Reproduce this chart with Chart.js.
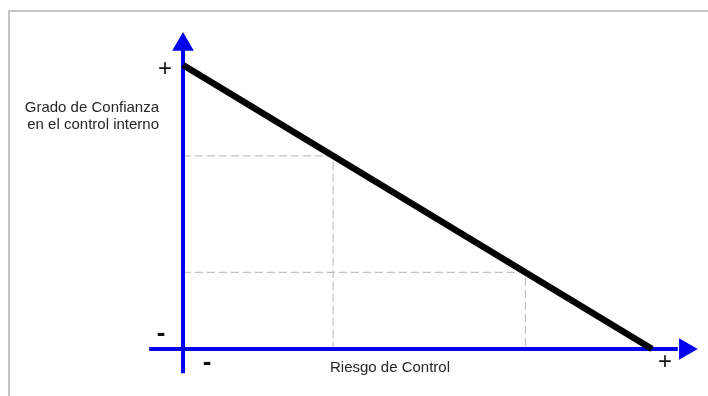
<!DOCTYPE html>
<html>
<head>
<meta charset="utf-8">
<script src="https://cdn.jsdelivr.net/npm/chart.js@4.4.1/dist/chart.umd.min.js"></script>
<style>
  html, body { margin: 0; padding: 0; background: #fff; }
  #wrap { position: relative; width: 708px; height: 396px; overflow: hidden; }
  canvas { display: block; }
</style>
</head>
<body>
<div id="wrap"><canvas id="c" width="708" height="396"></canvas></div>
<script>
// ---- data ----
const yTitleLines = ['Grado de Confianza', 'en el control interno'];
const xTitle = 'Riesgo de Control';
const yEndLabels = ['-', '+'];   // low, high
const xEndLabels = ['-', '+'];   // low, high
const lineX = [0, 10];
const lineY = [10, 0];
const guideX = [3.2, 7.3];
const guideY = [6.8, 2.7];
const axisXRange = [-0.72, 10.55];
const axisYRange = [-0.85, 10.55];
const arrowPos = [10.72, 10.71]; // y-arrow value on y, x-arrow value on x

const BLUE = '#0000ee';

const datasets = [];
datasets.push({
  label: 'main',
  data: lineX.map((x, i) => ({ x: x, y: lineY[i] })),
  borderColor: '#000', borderWidth: 6.5, pointRadius: 0, clip: false, borderCapStyle: 'butt'
});
datasets.push({
  label: 'arrows',
  data: [{ x: 0, y: arrowPos[0] }, { x: arrowPos[1], y: 0 }],
  showLine: false, pointStyle: 'triangle', pointRadius: 12.5, rotation: [0, 90],
  backgroundColor: BLUE, borderColor: BLUE, borderWidth: 0, clip: false
});
datasets.push({
  label: 'xaxis',
  data: axisXRange.map(v => ({ x: v, y: 0 })),
  borderColor: BLUE, borderWidth: 4, pointRadius: 0, clip: false
});
datasets.push({
  label: 'yaxis',
  data: axisYRange.map(v => ({ x: 0, y: v })),
  borderColor: BLUE, borderWidth: 4, pointRadius: 0, clip: false
});
guideX.forEach((gx, i) => {
  datasets.push({
    label: 'guide' + i,
    data: [{ x: 0, y: guideY[i] }, { x: gx, y: guideY[i] }, { x: gx, y: 0 }],
    borderColor: '#b4b4b4', borderWidth: 1, borderDash: [8, 4], pointRadius: 0, clip: false
  });
});

const decor = {
  id: 'decor',
  beforeDraw(chart) {
    const ctx = chart.ctx;
    ctx.save();
    ctx.strokeStyle = '#c4c4c4';
    ctx.lineWidth = 2;
    ctx.beginPath();
    ctx.moveTo(9, 400);
    ctx.lineTo(9, 11);
    ctx.lineTo(710, 11);
    ctx.stroke();
    ctx.restore();
  },
  afterDraw(chart) {
    const ctx = chart.ctx;
    const xs = chart.scales.x, ys = chart.scales.y;
    const x0 = xs.getPixelForValue(0), x1 = xs.getPixelForValue(10);
    const y0 = ys.getPixelForValue(0), y1 = ys.getPixelForValue(10);
    ctx.save();
    ctx.fillStyle = '#262626';
    ctx.font = '15px "Liberation Sans", Arial, sans-serif';
    ctx.textAlign = 'right';
    ctx.textBaseline = 'alphabetic';
    ctx.fillText(yTitleLines[0], x0 - 24, y1 + 47);
    ctx.fillText(yTitleLines[1], x0 - 24, y1 + 64);
    ctx.textAlign = 'center';
    ctx.fillText(xTitle, 390, y0 + 23);
    ctx.textBaseline = 'middle';
    ctx.fillStyle = '#111';
    ctx.font = 'bold 26px "Liberation Sans", Arial, sans-serif';
    ctx.fillText(yEndLabels[0], x0 - 22, y0 - 15);
    ctx.fillText(xEndLabels[0], x0 + 24, y0 + 14);
    ctx.font = '24px "Liberation Sans", Arial, sans-serif';
    ctx.fillText(yEndLabels[1], x0 - 18, y1 + 4);
    ctx.fillText(xEndLabels[1], x1 + 13, y0 + 13);
    ctx.restore();
  }
};

// scale windows wide enough that the arrow heads sit inside the chart area,
// with 0 -> (183,349) and 10 -> (652,65)
const kx = 46.9, ky = 28.4;
const xMin = -0.9, xMax = 11.1, yMin = -1.1, yMax = 11.4;

new Chart(document.getElementById('c'), {
  type: 'line',
  data: { datasets: datasets },
  options: {
    responsive: false,
    animation: false,
    events: [],
    layout: { autoPadding: false, padding: {
      left: 183 + xMin * kx,
      right: 708 - (183 + xMax * kx),
      top: 349 - yMax * ky,
      bottom: 396 - (349 - yMin * ky)
    } },
    elements: { line: { tension: 0 } },
    scales: {
      x: { type: 'linear', min: xMin, max: xMax, display: false },
      y: { type: 'linear', min: yMin, max: yMax, display: false }
    },
    plugins: { legend: { display: false }, tooltip: { enabled: false }, title: { display: false } }
  },
  plugins: [decor]
});
</script>
</body>
</html>
